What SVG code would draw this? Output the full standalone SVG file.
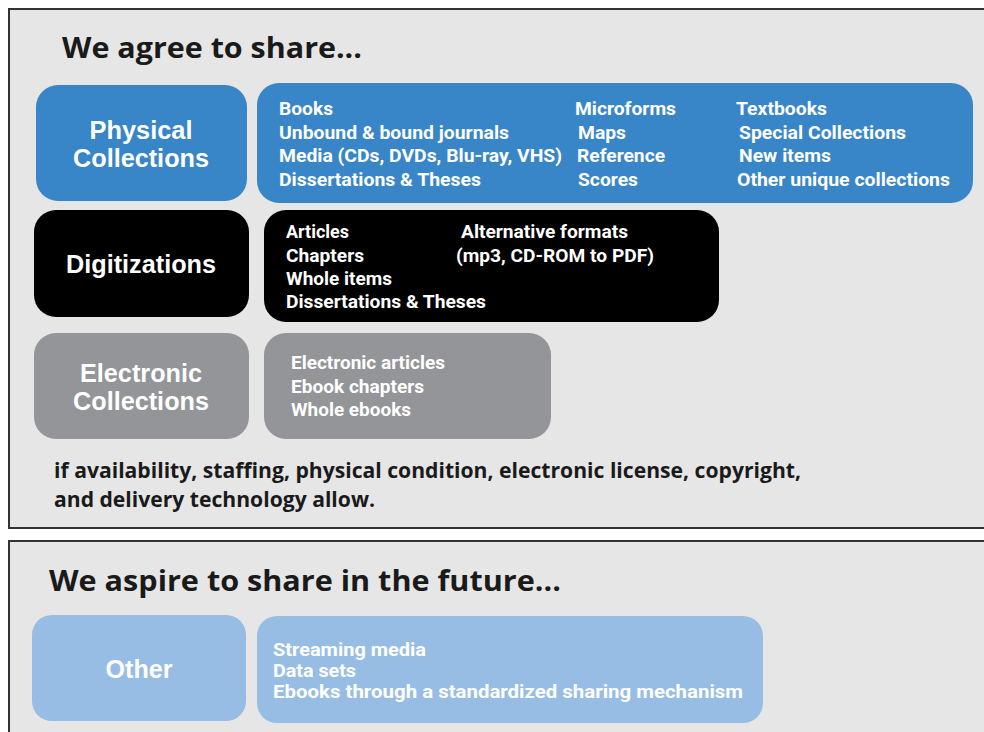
<svg xmlns="http://www.w3.org/2000/svg" width="984" height="732" viewBox="0 0 984 732">
<style>
.panel{fill:#e6e6e6;stroke:#333;stroke-width:2}
.title{font-family:"Open Sans","Liberation Sans",sans-serif;font-weight:700;font-size:29px;fill:#1a1a1a}
.note{font-family:"Open Sans","Liberation Sans",sans-serif;font-weight:700;font-size:21px;fill:#1a1a1a}
.lbl{font-family:"Liberation Sans",Arial,sans-serif;font-weight:700;font-size:25px;fill:#fff;text-anchor:middle}
.item{font-family:Roboto,"Liberation Sans",sans-serif;font-weight:700;font-size:18px;fill:#fff}
.blue{fill:#3886c8}
.black{fill:#000}
.gray{fill:#939598}
.lblue{fill:#98bde4}
</style>
<rect class="panel" x="9" y="9" width="990" height="519"/>
<rect class="panel" x="9" y="541" width="990" height="200"/>
<text class="title" x="62" y="58" textLength="300" lengthAdjust="spacingAndGlyphs">We agree to share...</text>

<g id="physical">
<rect class="blue" x="36" y="85" width="211" height="116" rx="22"/>
<text class="lbl" x="141" y="139" textLength="103" lengthAdjust="spacingAndGlyphs">Physical</text>
<text class="lbl" x="141" y="167" textLength="136" lengthAdjust="spacingAndGlyphs">Collections</text>
</g>
<g id="physical-items">
<rect class="blue" x="257" y="83" width="716" height="120" rx="22"/>
<text class="item" x="279" y="115" textLength="54" lengthAdjust="spacingAndGlyphs">Books</text>
<text class="item" x="279" y="139" textLength="230" lengthAdjust="spacingAndGlyphs">Unbound &amp; bound journals</text>
<text class="item" x="279" y="162" textLength="283" lengthAdjust="spacingAndGlyphs">Media (CDs, DVDs, Blu-ray, VHS)</text>
<text class="item" x="279" y="186" textLength="202" lengthAdjust="spacingAndGlyphs">Dissertations &amp; Theses</text>
<text class="item" x="575" y="115" textLength="101" lengthAdjust="spacingAndGlyphs">Microforms</text>
<text class="item" x="578" y="139" textLength="48" lengthAdjust="spacingAndGlyphs">Maps</text>
<text class="item" x="577" y="162" textLength="88" lengthAdjust="spacingAndGlyphs">Reference</text>
<text class="item" x="578" y="186" textLength="60" lengthAdjust="spacingAndGlyphs">Scores</text>
<text class="item" x="736" y="115" textLength="91" lengthAdjust="spacingAndGlyphs">Textbooks</text>
<text class="item" x="739" y="139" textLength="167" lengthAdjust="spacingAndGlyphs">Special Collections</text>
<text class="item" x="739" y="162" textLength="92" lengthAdjust="spacingAndGlyphs">New items</text>
<text class="item" x="737" y="186" textLength="213" lengthAdjust="spacingAndGlyphs">Other unique collections</text>
</g>

<g id="digitizations">
<rect class="black" x="34" y="210" width="215" height="107" rx="22"/>
<text class="lbl" x="141" y="273" textLength="150" lengthAdjust="spacingAndGlyphs">Digitizations</text>
</g>
<g id="digitization-items">
<rect class="black" x="264" y="210" width="455" height="112" rx="22"/>
<text class="item" x="286" y="238" textLength="63" lengthAdjust="spacingAndGlyphs">Articles</text>
<text class="item" x="286" y="262" textLength="78" lengthAdjust="spacingAndGlyphs">Chapters</text>
<text class="item" x="286" y="285" textLength="106" lengthAdjust="spacingAndGlyphs">Whole items</text>
<text class="item" x="286" y="308" textLength="200" lengthAdjust="spacingAndGlyphs">Dissertations &amp; Theses</text>
<text class="item" x="461" y="238" textLength="167" lengthAdjust="spacingAndGlyphs">Alternative formats</text>
<text class="item" x="456" y="262" textLength="198" lengthAdjust="spacingAndGlyphs">(mp3, CD-ROM to PDF)</text>
</g>

<g id="electronic">
<rect class="gray" x="34" y="333" width="215" height="106" rx="22"/>
<text class="lbl" x="141" y="382" textLength="122" lengthAdjust="spacingAndGlyphs">Electronic</text>
<text class="lbl" x="141" y="410" textLength="136" lengthAdjust="spacingAndGlyphs">Collections</text>
</g>
<g id="electronic-items">
<rect class="gray" x="264" y="333" width="287" height="106" rx="22"/>
<text class="item" x="291" y="369" textLength="154" lengthAdjust="spacingAndGlyphs">Electronic articles</text>
<text class="item" x="291" y="393" textLength="133" lengthAdjust="spacingAndGlyphs">Ebook chapters</text>
<text class="item" x="291" y="416" textLength="120" lengthAdjust="spacingAndGlyphs">Whole ebooks</text>
</g>

<text class="note" x="54" y="478" textLength="747" lengthAdjust="spacingAndGlyphs">if availability, staffing, physical condition, electronic license, copyright,</text>
<text class="note" x="54" y="507" textLength="321" lengthAdjust="spacingAndGlyphs">and delivery technology allow.</text>

<text class="title" x="49" y="591" textLength="512" lengthAdjust="spacingAndGlyphs">We aspire to share in the future...</text>

<g id="other">
<rect class="lblue" x="32" y="615" width="214" height="106" rx="20"/>
<text class="lbl" x="139" y="678" textLength="67" lengthAdjust="spacingAndGlyphs">Other</text>
</g>
<g id="other-items">
<rect class="lblue" x="257" y="616" width="506" height="107" rx="20"/>
<text class="item" x="273" y="656" textLength="153" lengthAdjust="spacingAndGlyphs">Streaming media</text>
<text class="item" x="273" y="677" textLength="83" lengthAdjust="spacingAndGlyphs">Data sets</text>
<text class="item" x="273" y="698" textLength="470" lengthAdjust="spacingAndGlyphs">Ebooks through a standardized sharing mechanism</text>
</g>
<g id="connectors"/>
</svg>
